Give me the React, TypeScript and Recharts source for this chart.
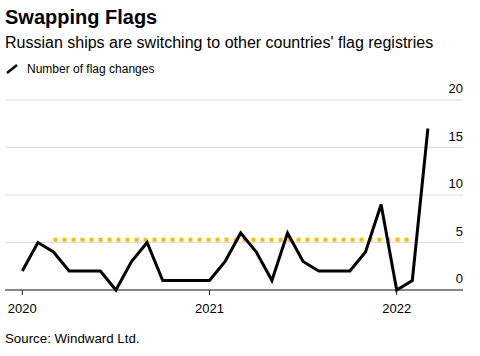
import { LineChart, Line, XAxis, YAxis, CartesianGrid } from 'recharts';

// monthly, Jan 2020 .. Mar 2022
const months = [
  '2020-01', '2020-02', '2020-03', '2020-04', '2020-05', '2020-06', '2020-07', '2020-08', '2020-09',
  '2020-10', '2020-11', '2020-12', '2021-01', '2021-02', '2021-03', '2021-04', '2021-05', '2021-06',
  '2021-07', '2021-08', '2021-09', '2021-10', '2021-11', '2021-12', '2022-01', '2022-02', '2022-03',
];
const flagChanges = [2, 5, 4, 2, 2, 2, 0, 3, 5, 1, 1, 1, 1, 3, 6, 4, 1, 6, 3, 2, 2, 2, 4, 9, 0, 1, 17];
// dotted reference level, Mar 2020 .. Feb 2022
const refLevel = 5.3;
const refStart = 2;
const refEnd = 25;

const yTicks = [0, 5, 10, 15, 20];
const xTicks = [0, 12, 24];
const xTickLabels: Record<number, string> = { 0: '2020', 12: '2021', 24: '2022' };

const font = '"Liberation Sans", Arial, sans-serif';

const data = months.map((m, i) => ({
  i,
  month: m,
  value: flagChanges[i],
  ref: i >= refStart && i <= refEnd ? refLevel : null,
}));

const renderYTick = (props: any) => {
  const { y, payload, index } = props;
  // labels sit right-aligned at the plot's right edge, just above each gridline
  const right = props.viewBox ? props.viewBox.x + props.viewBox.width : props.x;
  return (
    <text key={index} x={right} y={y - 7} textAnchor="end" fontSize={13} fill="#000" fontFamily={font}>
      {payload.value}
    </text>
  );
};

export default function App() {
  return (
    <div style={{ position: 'absolute', left: 0, top: 0, width: 480, height: 356, background: '#fff', fontFamily: font }}>
      <div style={{ position: 'absolute', left: 5, top: 6, fontSize: 20, fontWeight: 700, color: '#000' }}>
        Swapping Flags
      </div>
      <div style={{ position: 'absolute', left: 5, top: 34, fontSize: 16, color: '#000' }}>
        Russian ships are switching to other countries' flag registries
      </div>
      <div style={{ position: 'absolute', left: 6, top: 62, fontSize: 12, color: '#000', display: 'flex', alignItems: 'center' }}>
        <svg width={12} height={10} style={{ marginRight: 9 }}>
          <line x1={1} y1={9} x2={11} y2={1} stroke="#000" strokeWidth={2.5} />
        </svg>
        Number of flag changes
      </div>
      <div style={{ position: 'absolute', left: 0, top: 80 }}>
        <LineChart width={480} height={250} data={data} margin={{ top: 20, right: 0, bottom: 0, left: 5 }}>
          <CartesianGrid vertical={false} stroke="#dcdcdc" />
          <XAxis
            dataKey="i"
            type="number"
            domain={[-1.11, 28.25]}
            ticks={xTicks}
            tickFormatter={(v: number) => xTickLabels[v] ?? ''}
            axisLine={{ stroke: '#222' }}
            tickLine={{ stroke: '#222' }}
            tickSize={5}
            tickMargin={9}
            height={40}
            tick={{ fontSize: 13, fill: '#000', fontFamily: font }}
          />
          <YAxis
            orientation="right"
            width={17}
            domain={[0, 20]}
            ticks={yTicks}
            axisLine={false}
            tickLine={false}
            tickSize={0}
            tickMargin={0}
            tick={(p: any) => renderYTick({ ...p, x: p.x })}
          />
          <Line
            dataKey="ref"
            stroke="#ffbb00"
            strokeWidth={4}
            strokeDasharray="4 5"
            dot={false}
            connectNulls={false}
            isAnimationActive={false}
          />
          <Line
            dataKey="value"
            type="linear"
            stroke="#000"
            strokeWidth={3}
            dot={false}
            isAnimationActive={false}
          />
        </LineChart>
      </div>
      <div style={{ position: 'absolute', left: 5, top: 331, fontSize: 13.3, color: '#000' }}>
        Source: Windward Ltd.
      </div>
    </div>
  );
}
